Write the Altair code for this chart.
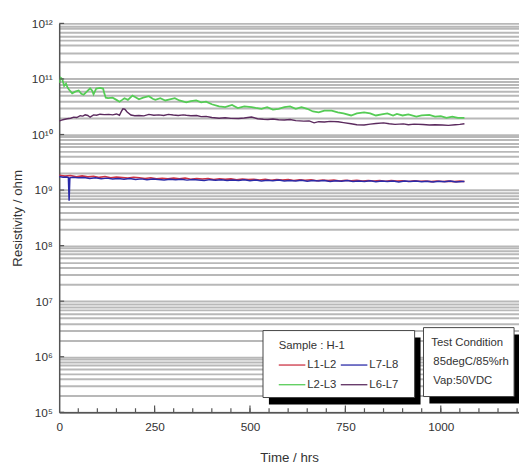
import altair as alt
import pandas as pd

# ---------------- data ----------------
series_names = ["L1-L2", "L7-L8", "L2-L3", "L6-L7"]
series_colors = {"L1-L2": "#cc3344", "L7-L8": "#2a2aa8", "L2-L3": "#55cc55", "L6-L7": "#5b2a5e"}

green_t = [0, 4, 8, 13, 18, 22, 26, 34, 42, 51, 58, 64, 73, 81, 86, 90, 97, 107, 115, 118, 122, 128,
           140, 150, 158, 165, 171, 180, 192, 200, 209, 220, 235, 245, 252, 265, 278, 290, 303, 315,
           333, 345, 359, 372, 385, 400, 419, 435, 453, 468, 485, 504, 515, 530, 545, 560, 575, 590,
           605, 620, 635, 650, 665, 680, 695, 714, 730, 745, 765, 780, 799, 815, 830, 845, 860, 875,
           885, 900, 915, 936, 950, 970, 985, 1000, 1015, 1030, 1045, 1062]
green_r = [8.5e10, 1.05e11, 1.0e11, 7.5e10, 8.2e10, 7.0e10, 6.4e10, 5.5e10, 5.9e10, 6.2e10, 5.4e10,
           5.2e10, 6.0e10, 6.8e10, 6.2e10, 5.3e10, 6.7e10, 6.9e10, 6.7e10, 5.6e10, 4.6e10, 4.5e10,
           4.6e10, 4.2e10, 3.9e10, 4.2e10, 4.5e10, 4.2e10, 5.0e10, 4.7e10, 4.3e10, 4.6e10, 4.9e10,
           4.4e10, 4.2e10, 4.5e10, 4.1e10, 4.3e10, 4.5e10, 4.1e10, 3.8e10, 4.0e10, 4.1e10, 3.8e10,
           3.9e10, 3.5e10, 3.2e10, 3.1e10, 3.4e10, 3.0e10, 3.2e10, 3.1e10, 3.0e10, 2.9e10, 3.1e10,
           2.8e10, 2.9e10, 3.1e10, 3.2e10, 2.9e10, 3.1e10, 2.9e10, 2.6e10, 2.5e10, 2.7e10, 2.7e10,
           2.5e10, 2.4e10, 2.2e10, 2.4e10, 2.5e10, 2.4e10, 2.2e10, 2.3e10, 2.4e10, 2.2e10, 2.35e10,
           2.2e10, 2.3e10, 2.1e10, 2.2e10, 2.25e10, 2.1e10, 2.15e10, 2.0e10, 2.1e10, 2.0e10, 2.0e10]

purple_t = [0, 4, 12, 21, 30, 38, 46, 55, 62, 68, 75, 81, 90, 98, 107, 118, 130, 140, 150, 158, 163,
            167, 172, 178, 188, 198, 209, 222, 235, 248, 261, 274, 286, 299, 312, 325, 333, 345, 360,
            372, 385, 400, 419, 435, 450, 470, 485, 504, 520, 535, 547, 560, 575, 590, 605, 620, 641,
            655, 668, 680, 695, 710, 731, 745, 765, 780, 799, 815, 830, 850, 865, 880, 902, 915, 930,
            953, 970, 985, 1004, 1020, 1038, 1050, 1062]
purple_r = [1.75e10, 1.80e10, 1.86e10, 1.92e10, 1.96e10, 2.05e10, 2.02e10, 2.18e10, 2.14e10, 2.26e10,
            2.20e10, 2.05e10, 2.25e10, 2.22e10, 2.32e10, 2.28e10, 2.30e10, 2.26e10, 2.34e10, 2.22e10,
            2.60e10, 2.90e10, 2.85e10, 2.55e10, 2.24e10, 2.18e10, 2.20e10, 2.16e10, 2.30e10, 2.22e10,
            2.26e10, 2.20e10, 2.30e10, 2.24e10, 2.20e10, 2.26e10, 2.22e10, 2.18e10, 2.20e10, 2.10e10,
            2.12e10, 2.02e10, 1.96e10, 2.00e10, 1.95e10, 1.94e10, 1.98e10, 2.06e10, 1.92e10, 1.88e10,
            1.86e10, 1.90e10, 1.84e10, 1.82e10, 1.86e10, 1.78e10, 1.74e10, 1.76e10, 1.62e10, 1.70e10,
            1.68e10, 1.72e10, 1.70e10, 1.64e10, 1.56e10, 1.50e10, 1.48e10, 1.54e10, 1.58e10, 1.62e10,
            1.56e10, 1.52e10, 1.55e10, 1.50e10, 1.54e10, 1.51e10, 1.48e10, 1.50e10, 1.48e10, 1.46e10,
            1.50e10, 1.52e10, 1.56e10]

red_t = [0, 15, 30, 45, 60, 75, 90, 105, 120, 135, 150, 165, 180, 195, 210, 225, 240, 255, 270, 285,
         300, 315, 330, 345, 360, 375, 390, 405, 420, 435, 450, 465, 480, 495, 510, 525, 540, 555, 570,
         585, 600, 615, 630, 645, 660, 675, 690, 705, 720, 735, 750, 765, 780, 795, 810, 825, 840, 855,
         870, 885, 900, 915, 930, 945, 960, 975, 990, 1005, 1020, 1035, 1050, 1062]
red_r = [1.85e9, 1.78e9, 1.83e9, 1.74e9, 1.80e9, 1.73e9, 1.77e9, 1.69e9, 1.75e9, 1.67e9, 1.72e9,
         1.68e9, 1.64e9, 1.70e9, 1.66e9, 1.61e9, 1.67e9, 1.60e9, 1.63e9, 1.59e9, 1.64e9, 1.60e9,
         1.65e9, 1.57e9, 1.62e9, 1.58e9, 1.61e9, 1.55e9, 1.60e9, 1.56e9, 1.59e9, 1.53e9, 1.58e9,
         1.54e9, 1.57e9, 1.52e9, 1.56e9, 1.50e9, 1.55e9, 1.51e9, 1.54e9, 1.49e9, 1.53e9, 1.50e9,
         1.53e9, 1.47e9, 1.52e9, 1.48e9, 1.51e9, 1.46e9, 1.50e9, 1.47e9, 1.50e9, 1.45e9, 1.49e9,
         1.46e9, 1.48e9, 1.44e9, 1.48e9, 1.45e9, 1.47e9, 1.43e9, 1.47e9, 1.44e9, 1.46e9, 1.42e9,
         1.46e9, 1.43e9, 1.45e9, 1.42e9, 1.45e9, 1.43e9]

blue_t = [0, 10, 20, 24, 26, 28, 35, 50, 65, 80, 95, 110, 125, 140, 155, 170, 185, 200, 215, 230, 245,
          260, 275, 290, 305, 320, 335, 350, 365, 380, 395, 410, 425, 440, 455, 470, 485, 500, 515, 530,
          545, 560, 575, 590, 605, 620, 635, 650, 665, 680, 695, 710, 725, 740, 755, 770, 785, 800, 815,
          830, 845, 860, 875, 890, 905, 920, 935, 950, 965, 980, 995, 1010, 1025, 1040, 1055, 1062]
blue_r = [1.75e9, 1.70e9, 1.72e9, 1.68e9, 6.4e8, 1.66e9, 1.70e9, 1.66e9, 1.69e9, 1.62e9, 1.66e9,
          1.60e9, 1.64e9, 1.58e9, 1.62e9, 1.57e9, 1.61e9, 1.55e9, 1.59e9, 1.54e9, 1.58e9, 1.55e9,
          1.52e9, 1.57e9, 1.53e9, 1.56e9, 1.51e9, 1.55e9, 1.52e9, 1.49e9, 1.54e9, 1.50e9, 1.53e9,
          1.48e9, 1.52e9, 1.49e9, 1.53e9, 1.47e9, 1.51e9, 1.46e9, 1.50e9, 1.47e9, 1.51e9, 1.45e9,
          1.49e9, 1.46e9, 1.50e9, 1.44e9, 1.48e9, 1.45e9, 1.49e9, 1.43e9, 1.47e9, 1.44e9, 1.48e9,
          1.42e9, 1.46e9, 1.43e9, 1.47e9, 1.41e9, 1.45e9, 1.42e9, 1.46e9, 1.40e9, 1.45e9, 1.42e9,
          1.46e9, 1.41e9, 1.44e9, 1.40e9, 1.44e9, 1.41e9, 1.45e9, 1.40e9, 1.43e9, 1.42e9]

x_tick_labels = [0, 250, 500, 750, 1000]
x_minor_ticks = list(range(50, 1250, 50))
decades = [10 ** e for e in range(5, 13)]
minor_grid = [k * 10 ** e for e in range(5, 12) for k in range(1, 10)] + [10 ** 12]

legend_title = "Sample : H-1"
condition_lines = ["Test Condition", "85degC/85%rh", "Vap:50VDC"]

# ---------------- chart ----------------
W, H = 467, 395
FONT = "Liberation Sans"
TXT = "#333333"

sup = {5: "⁵", 6: "⁶", 7: "⁷", 8: "⁸", 9: "⁹", 10: "¹⁰", 11: "¹¹", 12: "¹²"}
label_expr = "''"
for e in range(5, 13):
    label_expr = f"datum.value == {10 ** e} ? '10{sup[e]}' : ({label_expr})"

xs = alt.Scale(domain=[0, 1205], nice=False, zero=False)
ys = alt.Scale(type="log", domain=[1e5, 1e12], nice=False)

xaxis = alt.Axis(values=x_tick_labels, format="d", title="Time / hrs", grid=False, ticks=False,
                 tickSize=0, labelPadding=10, labelFontSize=12, labelFont=FONT, labelColor=TXT,
                 labelFlush=False, domainColor="#555555", domainWidth=1.5,
                 titleFont=FONT, titleFontSize=13.5, titleFontWeight="normal", titleColor=TXT,
                 titleY=46, titleBaseline="middle", zindex=1)
yaxis = alt.Axis(values=minor_grid, labelExpr=label_expr, grid=True, gridColor="#b8b8b8",
                 gridWidth=2, ticks=False, tickSize=0, labelPadding=7, labelFontSize=12,
                 labelFont=FONT, labelColor=TXT, labelOverlap=False, domainColor="#555555",
                 domainWidth=1.5, title="Resistivity / ohm", titleFont=FONT, titleFontSize=13.5,
                 titleFontWeight="normal", titleColor=TXT, titleX=-42, titleY=H / 2,
                 titleAngle=-90, titleBaseline="middle", zindex=0)


def X(field):
    return alt.X(field, type="quantitative", scale=xs, axis=xaxis)


def Y(field):
    return alt.Y(field, type="quantitative", scale=ys, axis=yaxis)


one = pd.DataFrame({"a": [0]})
layers = []

series = {
    "L2-L3": (green_t, green_r, 1.8),
    "L6-L7": (purple_t, purple_r, 1.4),
    "L1-L2": (red_t, red_r, 1.6),
    "L7-L8": (blue_t, blue_r, 1.5),
}
for name, (ts, rs, sw) in series.items():
    df = pd.DataFrame({"t": ts, "r": rs})
    layers.append(
        alt.Chart(df).mark_line(color=series_colors[name], strokeWidth=sw, clip=True)
        .encode(x=X("t"), y=Y("r"))
    )

# inward ticks on the x axis
layers.append(
    alt.Chart(pd.DataFrame({"t": x_minor_ticks})).mark_rule(color="#555555", strokeWidth=1.2, clip=True)
    .encode(x=X("t"), y=alt.value(H), y2=alt.value(H - 4))
)
layers.append(
    alt.Chart(pd.DataFrame({"t": x_tick_labels[1:]})).mark_rule(color="#555555", strokeWidth=1.2)
    .encode(x=X("t"), y=alt.value(H), y2=alt.value(H - 7))
)
# inward ticks on the y axis
layers.append(
    alt.Chart(pd.DataFrame({"r": decades})).mark_rule(color="#555555", strokeWidth=1.2)
    .encode(y=Y("r"), x=alt.value(0), x2=alt.value(5))
)


def box(x1, y1, x2, y2, fill, stroke=None):
    kw = {"fill": fill}
    if stroke:
        kw.update(stroke=stroke, strokeWidth=1)
    return alt.Chart(one).mark_rect(**kw).encode(
        x=alt.value(x1), x2=alt.value(x2), y=alt.value(y1), y2=alt.value(y2))


def text(x, y, s, size=11.5):
    return alt.Chart(one).mark_text(align="left", baseline="middle", font=FONT, fontSize=size,
                                    color=TXT).encode(x=alt.value(x), y=alt.value(y), text=alt.value(s))


# sample legend
layers += [box(213, 319, 367, 387, "black"), box(207, 312, 361, 380, "white", "#444444")]
layers.append(text(223, 328, legend_title))
leg_pos = [(223, 347), (286, 347), (223, 367), (286, 367)]
for name, (lx, ly) in zip(series_names, leg_pos):
    layers.append(
        alt.Chart(one).mark_rule(color=series_colors[name], strokeWidth=1.3)
        .encode(x=alt.value(lx), x2=alt.value(lx + 27), y=alt.value(ly))
    )
    layers.append(text(lx + 29, ly, name))

# test-condition box
layers += [box(376, 316, 470, 386, "black"), box(370, 309, 462, 379, "white", "#444444")]
for i, s in enumerate(condition_lines):
    layers.append(text(378 if i == 0 else 380, 325 + 19 * i, s))

chart = alt.layer(*layers).properties(
    width=W, height=H,
    padding={"left": 52, "top": 12, "right": 0, "bottom": 56},
    autosize=alt.AutoSizeParams(type="none"),
).configure_view(stroke=None)

chart.save("out.html", embed_options={"renderer": "svg", "actions": False})
